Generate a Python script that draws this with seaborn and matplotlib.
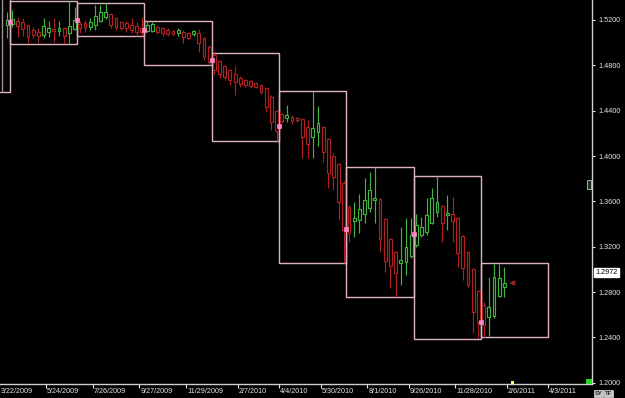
import numpy as np
import pandas as pd
import matplotlib
matplotlib.use("Agg")
import matplotlib.pyplot as plt
import seaborn as sns
from matplotlib.patches import Rectangle

# ---------------- data (weekly candles, week starting Sunday) ----------------
first_week = "2009-03-29"
opens = [1.5156, 1.5164, 1.5191, 1.5182, 1.5156, 1.5111, 1.5094, 1.5067, 1.5094, 1.5120,
         1.5103, 1.5129, 1.5085, 1.5120, 1.5164, 1.5173, 1.5138, 1.5156, 1.5191, 1.5226,
         1.5253, 1.5217, 1.5182, 1.5173, 1.5156, 1.5147, 1.5129, 1.5103, 1.5103, 1.5138,
         1.5129, 1.5111, 1.5103, 1.5089, 1.5094, 1.5085, 1.5076, 1.5085, 1.5041, 1.4961,
         1.4891, 1.4838, 1.4794, 1.4759, 1.4723, 1.4688, 1.4670, 1.4662, 1.4644, 1.4626,
         1.4600, 1.4520, 1.4397, 1.4371, 1.4335, 1.4344, 1.4335, 1.4326, 1.4256, 1.4168,
         1.4212, 1.4256, 1.4150, 1.4000, 1.3930, 1.3762, 1.3550, 1.3427, 1.3436, 1.3489,
         1.3541, 1.3612, 1.3621, 1.3444, 1.3268, 1.3153, 1.3056, 1.3065, 1.3118, 1.3215,
         1.3303, 1.3330, 1.3409, 1.3506, 1.3559, 1.3484, 1.3489, 1.3453, 1.3294, 1.3153,
         1.3004, 1.2809, 1.2686, 1.2580, 1.2589, 1.2765, 1.2845]
highs = [1.5270, 1.5288, 1.5226, 1.5217, 1.5164, 1.5138, 1.5129, 1.5217, 1.5191, 1.5217,
         1.5191, 1.5138, 1.5367, 1.5314, 1.5191, 1.5200, 1.5217, 1.5332, 1.5332, 1.5350,
         1.5261, 1.5226, 1.5191, 1.5191, 1.5217, 1.5182, 1.5226, 1.5191, 1.5182, 1.5156,
         1.5138, 1.5129, 1.5111, 1.5129, 1.5111, 1.5094, 1.5111, 1.5120, 1.5050, 1.4979,
         1.4909, 1.4847, 1.4803, 1.4767, 1.4794, 1.4706, 1.4679, 1.4670, 1.4653, 1.4635,
         1.4609, 1.4538, 1.4406, 1.4379, 1.4450, 1.4362, 1.4344, 1.4335, 1.4318, 1.4573,
         1.4441, 1.4265, 1.4159, 1.4027, 1.3938, 1.3780, 1.3568, 1.3594, 1.3665, 1.3806,
         1.3859, 1.3903, 1.3630, 1.3453, 1.3277, 1.3162, 1.3374, 1.3453, 1.3453, 1.3489,
         1.3462, 1.3630, 1.3718, 1.3824, 1.3568, 1.3656, 1.3638, 1.3462, 1.3303, 1.3162,
         1.3012, 1.2818, 1.2712, 1.2933, 1.3048, 1.3048, 1.3021]
lows = [1.5041, 1.5138, 1.5050, 1.5058, 1.4997, 1.5041, 1.4997, 1.5041, 1.5050, 1.5006,
        1.5058, 1.4997, 1.4988, 1.5111, 1.5085, 1.5094, 1.5111, 1.5111, 1.5182, 1.5208,
        1.5129, 1.5111, 1.5111, 1.5094, 1.5085, 1.5058, 1.5058, 1.5094, 1.5094, 1.5076,
        1.5058, 1.5058, 1.5067, 1.5058, 1.4997, 1.5023, 1.5058, 1.4917, 1.4847, 1.4803,
        1.4723, 1.4688, 1.4670, 1.4626, 1.4538, 1.4609, 1.4609, 1.4600, 1.4600, 1.4547,
        1.4388, 1.4229, 1.4132, 1.4291, 1.4300, 1.4282, 1.4300, 1.3982, 1.3982, 1.3982,
        1.4088, 1.3947, 1.3718, 1.3700, 1.3436, 1.3056, 1.3242, 1.3286, 1.3321, 1.3409,
        1.3506, 1.3409, 1.3153, 1.2977, 1.2836, 1.2752, 1.2862, 1.2951, 1.3100, 1.3197,
        1.3286, 1.3303, 1.3400, 1.3462, 1.3242, 1.3347, 1.3242, 1.3021, 1.2906, 1.2845,
        1.2439, 1.2395, 1.2404, 1.2413, 1.2571, 1.2757, 1.2757]
closes = [1.5200, 1.5208, 1.5147, 1.5120, 1.5050, 1.5067, 1.5058, 1.5147, 1.5129, 1.5103,
          1.5129, 1.5058, 1.5147, 1.5200, 1.5129, 1.5138, 1.5182, 1.5235, 1.5270, 1.5270,
          1.5156, 1.5138, 1.5129, 1.5129, 1.5111, 1.5094, 1.5094, 1.5156, 1.5164, 1.5094,
          1.5085, 1.5076, 1.5076, 1.5107, 1.5050, 1.5041, 1.5103, 1.4997, 1.4873, 1.4829,
          1.4759, 1.4723, 1.4697, 1.4670, 1.4653, 1.4635, 1.4626, 1.4617, 1.4609, 1.4565,
          1.4432, 1.4300, 1.4221, 1.4309, 1.4362, 1.4309, 1.4318, 1.4168, 1.4106, 1.4247,
          1.4291, 1.4035, 1.3850, 1.3815, 1.3594, 1.3347, 1.3321, 1.3453, 1.3533, 1.3612,
          1.3700, 1.3630, 1.3268, 1.3074, 1.3030, 1.2968, 1.3083, 1.3197, 1.3303, 1.3392,
          1.3374, 1.3480, 1.3630, 1.3594, 1.3409, 1.3497, 1.3427, 1.3145, 1.3012, 1.2862,
          1.2624, 1.2536, 1.2510, 1.2668, 1.2933, 1.2924, 1.2880]

# quarterly range boxes
quarter_starts = ["2009-01-04", "2009-04-05", "2009-07-05", "2009-10-04", "2010-01-03",
                  "2010-04-04", "2010-07-04", "2010-10-03", "2011-01-02"]
quarter_ends = ["2009-04-05", "2009-07-05", "2009-10-04", "2010-01-03", "2010-04-04",
                "2010-07-04", "2010-10-03", "2011-01-02", "2011-04-03"]
quarter_highs = [1.5600, 1.5367, 1.5350, 1.5191, 1.4909, 1.4573, 1.3903, 1.3824, 1.3052]
quarter_lows = [1.4565, 1.4988, 1.5058, 1.4803, 1.4132, 1.3056, 1.2752, 1.2390, 1.2404]
quarter_opens = [np.nan, 1.5182, 1.5200, 1.5111, 1.4851, 1.4269, 1.3356, 1.3309, 1.2533]

# partly visible earlier week (grey line at the left edge)
prev_week = "2009-03-22"
prev_week_low = 1.4565
prev_week_high = 1.5600

tick_dates = ["2009-03-22", "2009-05-24", "2009-07-26", "2009-09-27", "2009-11-29",
              "2010-02-07", "2010-04-04", "2010-05-30", "2010-08-01", "2010-09-26",
              "2010-11-28", "2011-02-06", "2011-04-03"]
tick_labels = ["3/22/2009", "5/24/2009", "7/26/2009", "9/27/2009", "11/29/2009",
               "2/7/2010", "4/4/2010", "5/30/2010", "8/1/2010", "9/26/2010",
               "11/28/2010", "2/6/2011", "4/3/2011"]
price_ticks = [1.20, 1.24, 1.28, 1.32, 1.36, 1.40, 1.44, 1.48, 1.52]
last_price = 1.2972
arrow_price = 1.2880
yellow_mark_date = "2011-02-13"

# ---------------- styling ----------------
sns.set_theme(style="dark", rc={"axes.facecolor": "black", "figure.facecolor": "black"})
plt.rcParams["font.family"] = ["Liberation Sans", "DejaVu Sans"]

GREEN = "#3fb53f"
RED = "#b02020"
BOX = "#dfb4be"
PINK = "#ff86c8"
FG = "#e6e6e6"

origin = pd.Timestamp(first_week)
def to_u(d):
    return (pd.Timestamp(d) - origin).days / 7.0

df = pd.DataFrame({"open": opens, "high": highs, "low": lows, "close": closes})
df["u"] = np.arange(len(df)) + 0.5
df["up"] = df["close"] >= df["open"]
colors = np.where(df["up"], GREEN, RED)

fig = plt.figure(figsize=(6.25, 3.98), dpi=100, facecolor="black")
ax = fig.add_axes([0, 14 / 398, 592 / 625, 384 / 398])
ax.set_facecolor("black")
ax.set_xlim(-0.91, 113.44)
ax.set_ylim(1.1989, 1.5376)

# boxes
for s, e, h, l in zip(quarter_starts, quarter_ends, quarter_highs, quarter_lows):
    us, ue = to_u(s), to_u(e)
    ax.add_patch(Rectangle((us, l), ue - us, h - l, fill=False, edgecolor=BOX,
                           linewidth=1.0, zorder=2))

# grey line of the partly visible week at the left edge
ax.vlines([to_u(prev_week) + 0.5], [prev_week_low], [prev_week_high],
          colors="#9c9096", linewidth=1.0, zorder=2)

# candles
ax.vlines(df["u"], df["low"], df["high"], colors=colors, linewidth=0.85, zorder=3)
body_bottom = np.minimum(df["open"], df["close"])
body_h = np.maximum(np.abs(df["close"] - df["open"]), 0.0006)
ax.bar(df["u"], body_h, bottom=body_bottom, width=0.55, facecolor="black",
       edgecolor=colors, linewidth=0.85, zorder=4)

# quarter open markers
mk = pd.DataFrame({"u": [to_u(s) for s in quarter_starts], "p": quarter_opens}).dropna()
sns.scatterplot(data=mk, x="u", y="p", ax=ax, marker="s", s=10, color=PINK,
                edgecolor=PINK, linewidth=0.5, zorder=6, legend=False)

# arrow to last candle
ax.annotate("", xy=(96.97, arrow_price), xytext=(99.2, arrow_price),
            arrowprops=dict(arrowstyle="->", color="#c02828", lw=0.9,
                            mutation_scale=7), zorder=7)

# axes, spines, ticks
for side in ["top", "left"]:
    ax.spines[side].set_visible(False)
for side in ["right", "bottom"]:
    ax.spines[side].set_visible(True)
    ax.spines[side].set_color("#cfcfcf")
    ax.spines[side].set_linewidth(1.0)
ax.grid(False)
ax.set_xlabel("")
ax.set_ylabel("")
ax.yaxis.tick_right()
ax.set_yticks(price_ticks)
ax.set_yticklabels([f"{p:.4f}" for p in price_ticks])
ax.tick_params(axis="y", right=True, left=False, length=2.5, width=0.8, color=FG,
               labelcolor=FG, labelsize=5.2, pad=2)
u_ticks = [to_u(d) for d in tick_dates]
ax.set_xticks([u for u in u_ticks if u > -0.91])
ax.tick_params(axis="x", bottom=True, length=3, width=0.8, color=FG, labelbottom=False)
for u, lab in zip(u_ticks, tick_labels):
    ax.text(u + 0.2, -0.019, lab, transform=ax.get_xaxis_transform(), ha="left",
            va="center", fontsize=5.2, color=FG, clip_on=False)

# last price label
ax.annotate(f"{last_price:.4f}", xy=(1.006, last_price),
            xycoords=("axes fraction", "data"), ha="left", va="center", fontsize=5.2,
            color="black", annotation_clip=False,
            bbox=dict(boxstyle="square,pad=0.2", fc="white", ec="white"))

# small status markers
ax.add_patch(Rectangle((0.9899, 0.0), 0.0101, 0.014, transform=ax.transAxes,
                       facecolor="#22dd22", edgecolor="none", zorder=8, clip_on=False))
ax.add_patch(Rectangle((to_u(yellow_mark_date) - 0.3, 1.1989), 0.6, 0.0025,
                       facecolor="#ffff70", edgecolor="none", zorder=8, clip_on=False))
ax.add_patch(Rectangle((0.9915, 0.508), 0.007, 0.022, transform=ax.transAxes,
                       facecolor="#203020", edgecolor="#a8d8a8", linewidth=0.6,
                       zorder=8, clip_on=False))
fig.text(594.5 / 625, 4.5 / 398, "SY", fontsize=4.2, color="#202020", ha="left",
         va="center", fontweight="bold",
         bbox=dict(boxstyle="square,pad=0.12", fc="#c8c8c8", ec="#e0e0e0", lw=0.5))
fig.text(605 / 625, 4.5 / 398, "TF", fontsize=4.2, color="#202020", ha="left",
         va="center", fontweight="bold",
         bbox=dict(boxstyle="square,pad=0.12", fc="#c8c8c8", ec="#e0e0e0", lw=0.5))

fig.savefig("out.png", dpi=100, facecolor="black")
